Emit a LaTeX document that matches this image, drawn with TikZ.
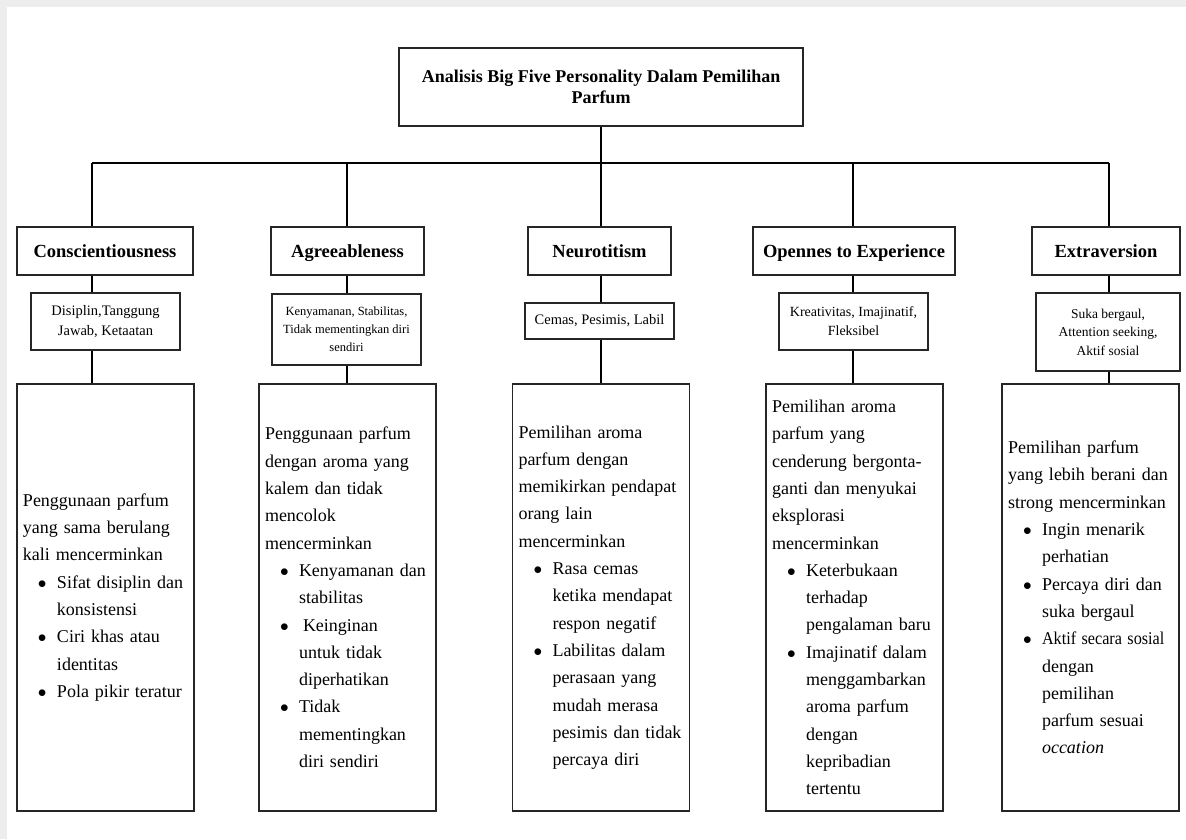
\documentclass[tikz,border=0pt]{standalone}
\usepackage{fontspec}
\usepackage{graphicx}
\setmainfont{Liberation Serif}
\newcommand\bl[1]{\hspace*{15pt}\makebox[19pt][l]{$\bullet$}#1}
\newcommand\bc[1]{\hspace*{34pt}#1}
\tikzset{
  frame/.style={draw=black!85, line width=1.6pt, fill=white, inner sep=0pt},
  titlebox/.style={frame, minimum width=404pt, minimum height=78pt, align=center,
    font=\fontsize{18}{20}\selectfont\bfseries},
  catbox/.style={frame, minimum height=48pt, align=center, text height=15pt, text depth=2pt,
    font=\fontsize{18.5}{22}\selectfont\bfseries},
  traitbox/.style={frame, align=center, font=\fontsize{14.5}{19.5}\selectfont},
  bigbox/.style={frame, minimum height=427pt, text width=165pt, inner sep=6pt,
    align=left, font=\fontsize{18}{27.3}\selectfont},
  link/.style={draw=black, line width=1.6pt},
}
\begin{document}
\begin{tikzpicture}[x=1pt,y=-1pt]
\useasboundingbox (0,0) rectangle (1186,839);
\fill[black!7] (0,0) rectangle (1186,7);
\fill[black!7] (0,0) rectangle (7,839);

% title
\node[titlebox] (t) at (601,87) {\raisebox{-3pt}{\shortstack{Analisis Big Five Personality Dalam Pemilihan\\[1pt]Parfum}}};

% bus junctions
\coordinate (j1) at (92,163);
\coordinate (j2) at (347,163);
\coordinate (j3) at (601,163);
\coordinate (j4) at (853,163);
\coordinate (j5) at (1109,163);

% categories
\node[catbox, minimum width=176pt] (c1) at (105,251) {Conscientiousness};
\node[catbox, minimum width=153pt] (c2) at (347.5,251) {Agreeableness};
\node[catbox, minimum width=143pt] (c3) at (599.5,251) {Neurotitism};
\node[catbox, minimum width=202pt] (c4) at (854,251) {Opennes to Experience};
\node[catbox, minimum width=148pt] (c5) at (1106,251) {Extraversion};

% traits
\node[traitbox, minimum width=149pt, minimum height=57pt] (s1) at (105.5,321.5) {Disiplin,Tanggung\\Jawab, Ketaatan};
\node[traitbox, minimum width=149pt, minimum height=71pt, font=\fontsize{12.5}{18}\selectfont] (s2) at (346.5,329.5) {Kenyamanan, Stabilitas,\\Tidak mementingkan diri\\sendiri};
\node[traitbox, minimum width=149pt, minimum height=36pt] (s3) at (599.5,321) {Cemas, Pesimis, Labil};
\node[traitbox, minimum width=149pt, minimum height=57pt, font=\fontsize{14}{19}\selectfont] (s4) at (853.5,321.5) {Kreativitas, Imajinatif,\\Fleksibel};
\node[traitbox, minimum width=144pt, minimum height=78pt, font=\fontsize{13.5}{18.5}\selectfont] (s5) at (1108,332) {Suka bergaul,\\Attention seeking,\\Aktif sosial};

% descriptions
\node[bigbox] (b1) at (105.5,597.5) {Penggunaan parfum\\yang sama berulang\\kali mencerminkan\\
\bl{Sifat disiplin dan}\\\bc{konsistensi}\\
\bl{Ciri khas atau}\\\bc{identitas}\\
\bl{Pola pikir teratur}};

\node[bigbox] (b2) at (347.5,597.5) {Penggunaan parfum\\dengan aroma yang\\kalem dan tidak\\mencolok\\mencerminkan\\
\bl{Kenyamanan dan}\\\bc{stabilitas}\\
\bl{\hspace{4pt}Keinginan}\\\bc{untuk tidak}\\\bc{diperhatikan}\\
\bl{Tidak}\\\bc{mementingkan}\\\bc{diri sendiri}};

\node[bigbox] (b3) at (601,597.5) {Pemilihan aroma\\parfum dengan\\memikirkan pendapat\\orang lain\\mencerminkan\\
\bl{Rasa cemas}\\\bc{ketika mendapat}\\\bc{respon negatif}\\
\bl{Labilitas dalam}\\\bc{perasaan yang}\\\bc{mudah merasa}\\\bc{pesimis dan tidak}\\\bc{percaya diri}};

\node[bigbox] (b4) at (854.5,597.5) {Pemilihan aroma\\parfum yang\\cenderung bergonta-\\ganti dan menyukai\\eksplorasi\\mencerminkan\\
\bl{Keterbukaan}\\\bc{terhadap}\\\bc{pengalaman baru}\\
\bl{Imajinatif dalam}\\\bc{menggambarkan}\\\bc{aroma parfum}\\\bc{dengan}\\\bc{kepribadian}\\\bc{tertentu}};

\node[bigbox] (b5) at (1090.5,597.5) {Pemilihan parfum\\yang lebih berani dan\\strong mencerminkan\\
\bl{Ingin menarik}\\\bc{perhatian}\\
\bl{Percaya diri dan}\\\bc{suka bergaul}\\
\bl{\scalebox{0.9}[1]{Aktif secara sosial}}\\\bc{dengan}\\\bc{pemilihan}\\\bc{parfum sesuai}\\\bc{\textit{occation}}};

% connectors
\draw[link] (t.south) -- (t.south |- j3);
\draw[link] (j1) -- (j5);
\foreach \i in {1,...,5}{
  \draw[link] (j\i) -- (j\i |- c\i.north);
  \draw[link] (c\i.south -| j\i) -- (s\i.north -| j\i);
  \draw[link] (s\i.south -| j\i) -- (b\i.north -| j\i);
}
\end{tikzpicture}
\end{document}
